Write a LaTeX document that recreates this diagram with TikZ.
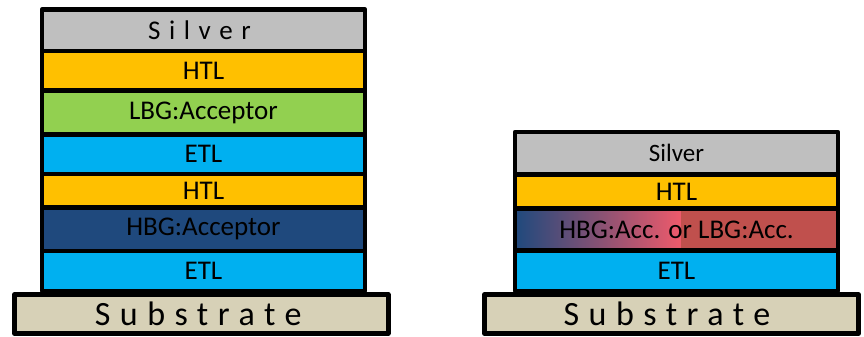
\documentclass[tikz,border=0pt]{standalone}
\usepackage{fontspec}
\setmainfont{Carlito}
\definecolor{silvergray}{HTML}{BFBFBF}
\definecolor{htlorange}{HTML}{FFC000}
\definecolor{lbggreen}{HTML}{92D050}
\definecolor{etlblue}{HTML}{00B0F0}
\definecolor{hbgblue}{HTML}{1F497D}
\definecolor{substratetan}{HTML}{D7D1B7}
\definecolor{mixpink}{HTML}{EE5A6B}
\definecolor{mixred}{HTML}{C0504D}
\begin{document}
\begin{tikzpicture}[x=1pt,y=-1pt,
  layer/.style={draw=black,line width=4.5pt,line join=round,inner sep=0pt,outer sep=0pt,
    font=\fontsize{27}{30}\selectfont},
  lefty/.style={minimum width=323pt},
  righty/.style={minimum width=323pt},
  subst/.style={layer,fill=substratetan,minimum width=374pt,minimum height=39pt,
    font=\fontsize{34}{38}\selectfont\addfontfeature{LetterSpace=28}},
]
\useasboundingbox (0,0) rectangle (864,337);
% left stack
\node[layer,lefty,fill=silvergray,minimum height=41.5pt,font=\fontsize{27}{30}\selectfont\addfontfeature{LetterSpace=32}] (lsil) at (203.5,30.25) {Silver\kern0.3em};
\node[layer,lefty,fill=htlorange,minimum height=39.5pt] (lhtl1) at (203.5,70.75) {HTL};
\node[layer,lefty,fill=lbggreen,minimum height=44pt] (llbg) at (203.5,112.5) {LBG:Acceptor};
\node[layer,lefty,fill=etlblue,minimum height=39.5pt] (letl1) at (203.5,154.25) {ETL};
\node[layer,lefty,fill=htlorange,minimum height=33.5pt] (lhtl2) at (203.5,190.75) {HTL};
\node[layer,lefty,fill=hbgblue,minimum height=43.5pt] (lhbg) at (203.5,229.25) {HBG:Acceptor};
\node[layer,lefty,fill=etlblue,minimum height=40pt] (letl2) at (203.5,271) {ETL};
\node[subst] (lsub) at (201.25,314) {Substrate\kern6pt};
% right stack
\node[layer,righty,fill=silvergray,minimum height=42.5pt,font=\fontsize{25}{28}\selectfont] (rsil) at (676.5,153.25) {Silver};
\node[layer,righty,fill=htlorange,minimum height=34pt] (rhtl) at (676.5,191.5) {HTL};
\shade[left color=hbgblue,right color=mixpink] (515,208.5) rectangle (681,250.5);
\fill[mixred] (681,208.5) rectangle (838,250.5);
\node[layer,righty,minimum height=42pt] (rmix) at (676.5,229.5) {HBG:Acc. or LBG:Acc.};
\node[layer,righty,fill=etlblue,minimum height=40.5pt] (retl) at (676.5,270.75) {ETL};
\node[subst] (rsub) at (671.5,314) {Substrate\kern9pt};
\end{tikzpicture}
\end{document}
